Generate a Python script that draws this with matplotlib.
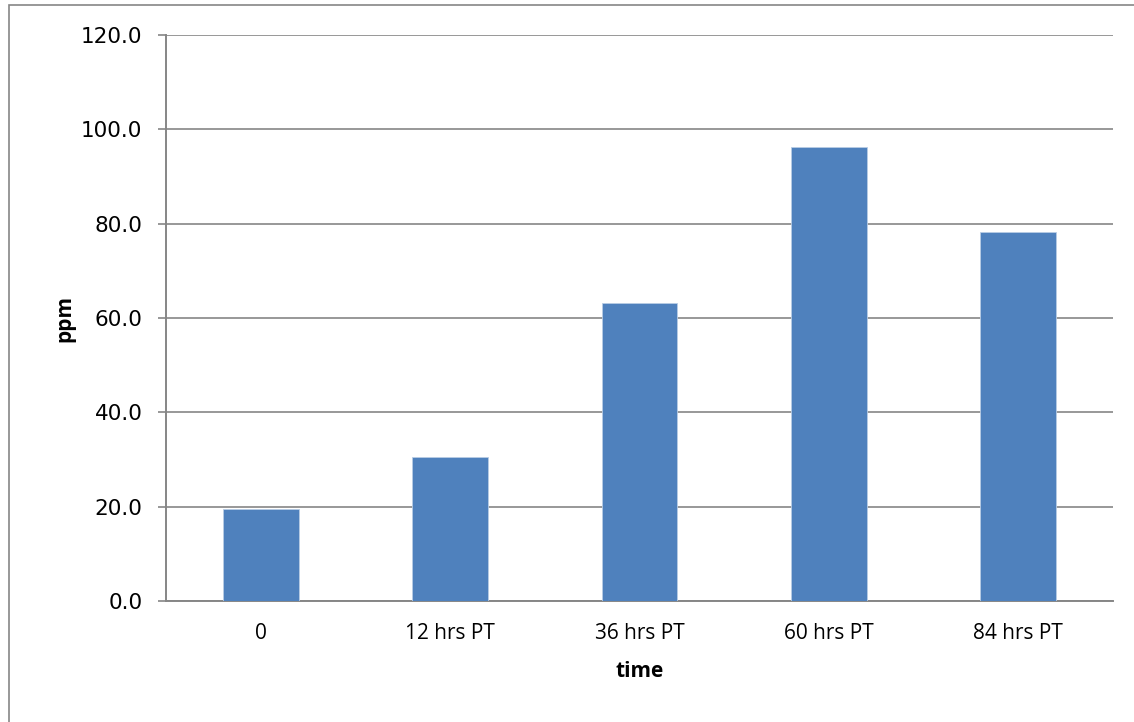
import numpy as np
import matplotlib.pyplot as plt
from matplotlib.patches import Rectangle

# data
categories = ["0", "12 hrs PT", "36 hrs PT", "60 hrs PT", "84 hrs PT"]
ppm = [19.5, 30.5, 63.1, 96.2, 78.2]
yticks = [0, 20, 40, 60, 80, 100, 120]

narrow = ['Open Sans', 'DejaVu Sans']
plt.rcParams['font.family'] = ['DejaVu Sans']

fig = plt.figure(figsize=(11.34, 7.22), dpi=100)
ax = fig.add_axes([166/1134, 1 - 601/722, (1113 - 166)/1134, (601 - 35)/722])

# outer chart frame (left and top edges visible)
fig.patches.append(Rectangle((9/1134, -0.05), 1.2, 1 - 5/722 + 0.05, transform=fig.transFigure,
                             fill=False, edgecolor="#868686", linewidth=1.2))

x = np.arange(len(categories))
ax.bar(x, ppm, width=0.4, color="#4F81BD", edgecolor="#B9CDE5", linewidth=0.6, zorder=3)

ax.set_xlim(-0.5, len(categories) - 0.5)
ax.set_ylim(0, 120)
ax.set_yticks(yticks)
ax.set_yticklabels([f"{v:.1f}" for v in yticks], fontsize=15.5)
ax.set_xticks(x)
ax.set_xticklabels(categories, family=narrow, fontsize=15)

ax.grid(axis="y", color="#868686", linewidth=1.2, zorder=0)
for s in ["top", "right"]:
    ax.spines[s].set_visible(False)
for s in ["left", "bottom"]:
    ax.spines[s].set_color("#868686")
    ax.spines[s].set_linewidth(1.4)

ax.tick_params(axis="y", length=6, color="#868686", width=1.2, pad=11)
ax.tick_params(axis="x", length=0, pad=16)

ax.set_ylabel("ppm", family=narrow, fontsize=15, fontweight="bold", labelpad=4)
ax.set_xlabel("time", family=narrow, fontsize=15, fontweight="bold", labelpad=12)

fig.savefig("out.png", dpi=100)
